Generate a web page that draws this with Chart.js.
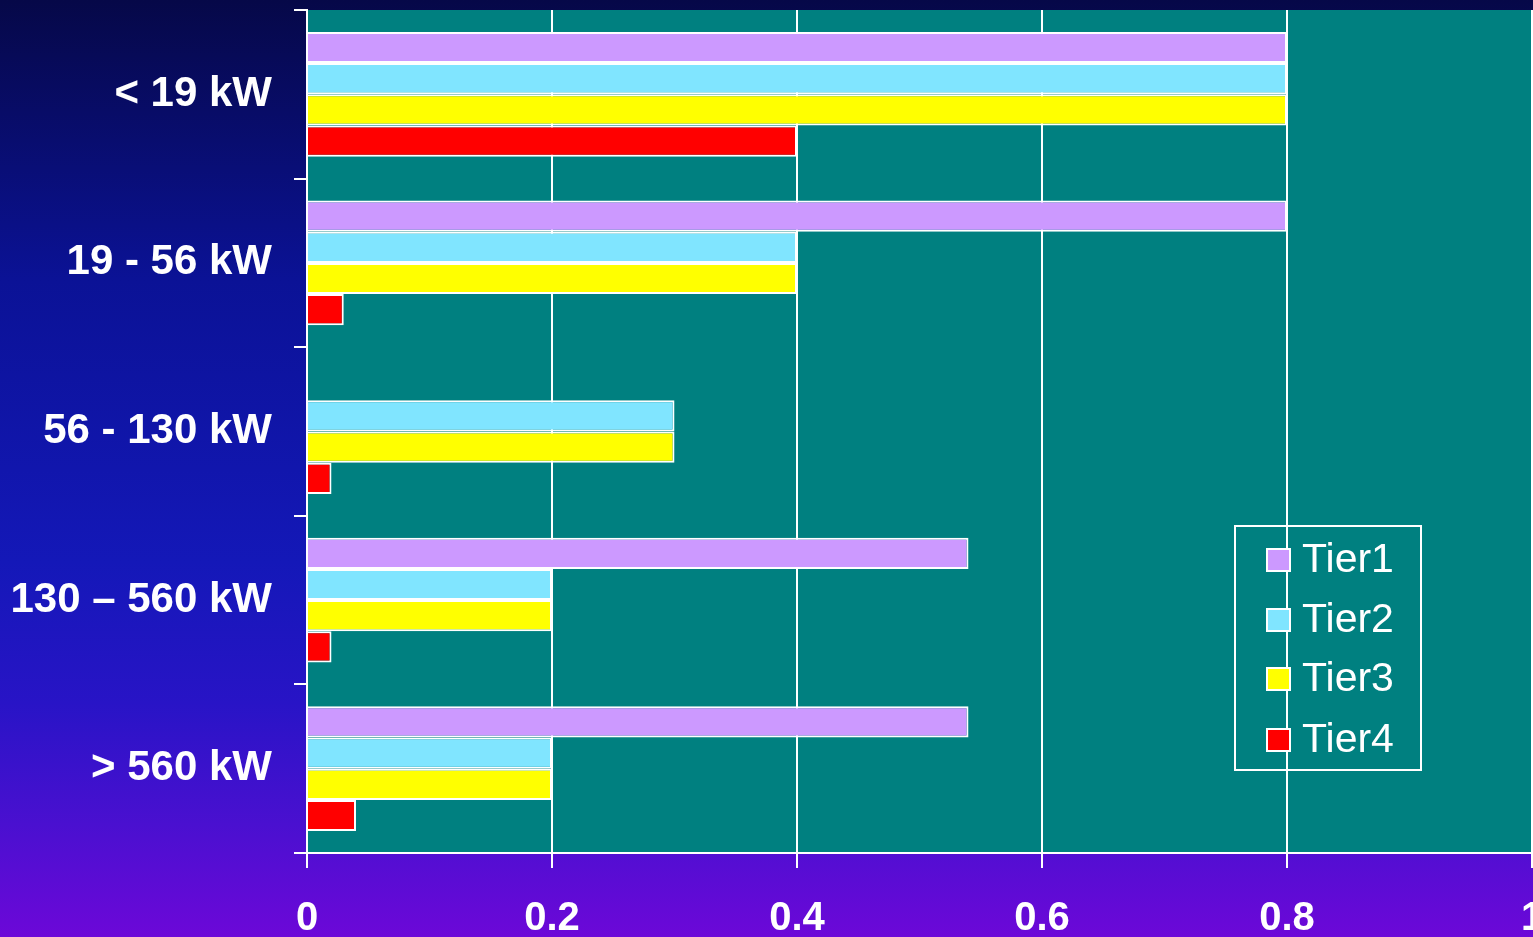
<!DOCTYPE html>
<html>
<head>
<meta charset="utf-8">
<script src="https://cdn.jsdelivr.net/npm/chart.js@4/dist/chart.umd.min.js"></script>
<style>
  html, body { margin: 0; padding: 0; background: #0b1296; }
  #wrap { width: 1533px; height: 937px; position: relative; }
  canvas { display: block; }
</style>
</head>
<body>
<div id="wrap"><canvas id="c" width="1533" height="937"></canvas></div>
<script>
const categories = ['< 19 kW', '19 - 56 kW', '56 - 130 kW', '130 \u2013 560 kW', '> 560 kW'];
const seriesNames = ['Tier1', 'Tier2', 'Tier3', 'Tier4'];
const tier1 = [0.8, 0.8, null, 0.54, 0.54];
const tier2 = [0.8, 0.4, 0.3, 0.2, 0.2];
const tier3 = [0.8, 0.4, 0.3, 0.2, 0.2];
const tier4 = [0.4, 0.03, 0.02, 0.02, 0.04];
const xTicks = [0, 0.2, 0.4, 0.6, 0.8, 1];

const colors = ['#cc99ff', '#80e5ff', '#ffff00', '#ff0000'];
const seriesValues = [tier1, tier2, tier3, tier4];

const FONT = "'Liberation Sans', Arial, sans-serif";

const bgPlugin = {
  id: 'bg',
  beforeDraw(chart) {
    const { ctx, width, height, chartArea } = chart;
    ctx.save();
    const g = ctx.createLinearGradient(0, 0, 0, height);
    g.addColorStop(0, '#060848');
    g.addColorStop(0.3, '#0b1296');
    g.addColorStop(0.6, '#1418b8');
    g.addColorStop(0.75, '#2814c6');
    g.addColorStop(0.88, '#4a10d0');
    g.addColorStop(1, '#6c08d8');
    ctx.fillStyle = g;
    ctx.fillRect(0, 0, width, height);
    ctx.fillStyle = '#008080';
    ctx.fillRect(chartArea.left, chartArea.top, chartArea.right - chartArea.left + 2, chartArea.bottom - chartArea.top);
    ctx.restore();
  }
};

const legendPlugin = {
  id: 'boxLegend',
  afterDraw(chart) {
    const { ctx } = chart;
    const bx = 1235, by = 526, bw = 186, bh = 244;
    ctx.save();
    ctx.strokeStyle = '#ffffff';
    ctx.lineWidth = 2;
    ctx.strokeRect(bx, by, bw, bh);
    const centers = [560, 620, 679, 740];
    chart.data.datasets.forEach((ds, i) => {
      const cy = centers[i];
      ctx.fillStyle = ds.backgroundColor;
      ctx.fillRect(1267, cy - 11, 23, 22);
      ctx.strokeStyle = '#ffffff';
      ctx.lineWidth = 2;
      ctx.strokeRect(1267, cy - 11, 23, 22);
      ctx.fillStyle = '#ffffff';
      ctx.font = '41px ' + FONT;
      ctx.textBaseline = 'middle';
      ctx.textAlign = 'left';
      ctx.fillText(ds.label, 1302, cy + 1);
    });
    ctx.restore();
  }
};

new Chart(document.getElementById('c'), {
  type: 'bar',
  data: {
    labels: categories,
    datasets: seriesNames.map((n, i) => ({
      label: n,
      data: seriesValues[i],
      backgroundColor: colors[i],
      borderColor: '#ffffff',
      borderWidth: 2,
      categoryPercentage: 0.74,
      barPercentage: 1.0
    }))
  },
  options: {
    indexAxis: 'y',
    responsive: false,
    animation: false,
    devicePixelRatio: 1,
    layout: { padding: { top: 10, right: 1, left: 0, bottom: 0 } },
    plugins: {
      legend: { display: false },
      tooltip: { enabled: false },
      title: { display: false }
    },
    scales: {
      x: {
        min: 0, max: 1,
        afterBuildTicks(scale) { scale.ticks = xTicks.map(v => ({ value: v })); },
        afterFit(scale) { scale.height = 84; scale.paddingRight = 0; scale.paddingLeft = 0; },
        grid: {
          color: '#ffffff', lineWidth: 2, tickLength: 15, drawOnChartArea: true
        },
        border: { color: '#ffffff', width: 2 },
        ticks: {
          color: '#ffffff',
          font: { family: FONT, size: 40, weight: 'bold' },
          padding: 27,
          maxRotation: 0,
          autoSkip: false,
          callback: (v) => String(v)
        }
      },
      y: {
        afterFit(scale) { scale.width = 307; scale.paddingTop = 0; scale.paddingBottom = 0; },
        grid: {
          color: '#ffffff', lineWidth: 2, tickLength: 13, drawOnChartArea: false, offset: true
        },
        border: { color: '#ffffff', width: 2 },
        ticks: {
          color: '#ffffff',
          font: { family: FONT, size: 42, weight: 'bold' },
          padding: 22
        }
      }
    }
  },
  plugins: [bgPlugin, legendPlugin]
});
</script>
</body>
</html>
